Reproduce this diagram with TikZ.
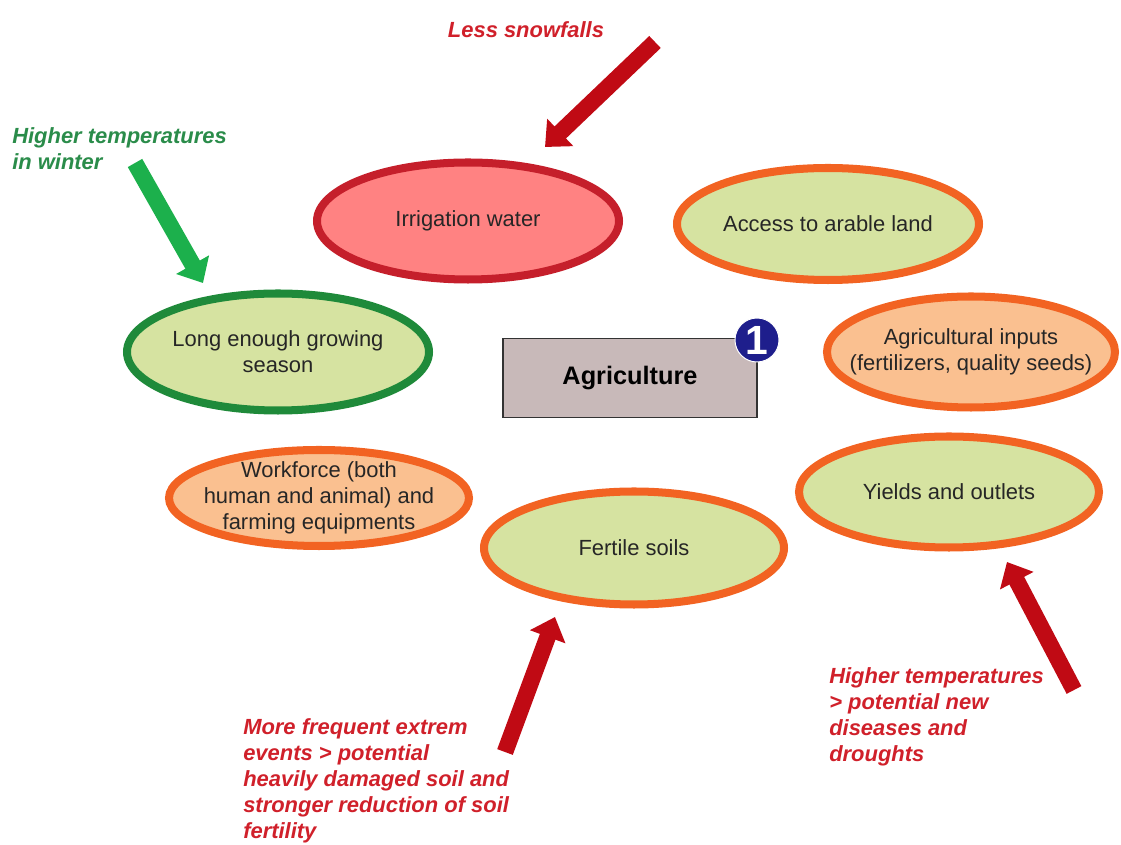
\documentclass[tikz,border=0pt]{standalone}
\usepackage{fontspec}
\setmainfont{Liberation Sans}
\usetikzlibrary{shapes.geometric, arrows.meta, calc}
\definecolor{limefill}{HTML}{D6E3A1}
\definecolor{peachfill}{HTML}{FAC090}
\definecolor{salmonfill}{HTML}{FF8282}
\definecolor{orangeline}{HTML}{F26322}
\definecolor{greenline}{HTML}{1F8A3A}
\definecolor{redline}{HTML}{C51F2B}
\definecolor{boxfill}{HTML}{C8B9B9}
\definecolor{badgeblue}{HTML}{1E1E8C}
\definecolor{redarrow}{HTML}{C00A14}
\definecolor{greenarrow}{HTML}{1CB04C}
\definecolor{redtxt}{HTML}{D0202A}
\definecolor{greentxt}{HTML}{2A8C4A}

\begin{document}
\begin{tikzpicture}[x=0.025cm, y=-0.025cm, lbl/.style={align=center, text=black!85, font=\fontsize{15.6}{18.5}\selectfont}]
\tikzstyle{oval}=[ellipse, line width=5.7pt, inner sep=0pt]
\tikzstyle{limeov}=[oval, draw=orangeline, fill=limefill]
\tikzstyle{peachov}=[oval, draw=orangeline, fill=peachfill]
\tikzstyle{greenov}=[oval, draw=greenline, fill=limefill]
\tikzstyle{redov}=[oval, draw=redline, fill=salmonfill]
\tikzstyle{note}=[align=left, inner sep=0pt, font=\bfseries\itshape\fontsize{15.6}{18.6}\selectfont]
\tikzstyle{fat}=[line width=11.8pt, -{Triangle[length=15pt, width=26pt]}]
\useasboundingbox (0,0) rectangle (1121,845);
% the seven conditions
\foreach \nm/\cx/\cy/\ow/\oh/\st/\txt in {
  irr/468/221/302/117/redov/{Irrigation water},
  land/828/224/302/112/limeov/{Access to arable land},
  grow/278/352/302/117/greenov/{Long enough growing\\season},
  inputs/971/352/288/111/peachov/{Agricultural inputs\\(fertilizers, quality seeds)},
  work/319/498/300/96/peachov/{Workforce (both\\human and animal) and\\farming equipments},
  yields/949/492/300/111/limeov/{Yields and outlets},
  soil/634/548/300/113/limeov/{Fertile soils}}{
  \node[\st, minimum width=\ow*0.025cm, minimum height=\oh*0.025cm,
    label={[lbl]center:\txt}] (\nm) at (\cx,\cy) {};}
\node[draw=black!80, fill=boxfill, line width=1.4pt, minimum width=6.35cm, minimum height=1.975cm,
  font=\bfseries\fontsize{18}{21}\selectfont] (agri) at (630,378) {Agriculture};
\node[circle, fill=badgeblue, draw=white, line width=0.7pt, minimum size=1.1cm, inner sep=0pt,
  text=white, font=\bfseries\fontsize{29}{30}\selectfont] (one) at (757,340) {1};
% climate notes
\node[note, text=redtxt] (snow) at (526,30) {Less snowfalls};
\node[note, text=greentxt, anchor=west] (winter) at (12,149) {Higher temperatures\\in winter};
\node[note, text=redtxt, anchor=west] (extrem) at (243,781) {More frequent extrem\\events > potential\\heavily damaged soil and\\stronger reduction of soil\\fertility};
\node[note, text=redtxt, anchor=west] (drought) at (829,717) {Higher temperatures\\> potential new\\diseases and\\droughts};
% arrows
\coordinate (snowtail) at (655,42);
\coordinate (wintertail) at (135,163);
\coordinate (soiltail) at (505,752);
\coordinate (yieldtail) at (1074,690);
\coordinate (irrtip) at ($(irr)+(77,-74)$);
\coordinate (growtip) at ($(grow)+(-75,-69)$);
\coordinate (soiltip) at ($(soil)+(-79,69)$);
\coordinate (yieldtip) at ($(yields)+(58,70)$);
\foreach \a/\b/\c in {snowtail/irrtip/redarrow, wintertail/growtip/greenarrow, soiltail/soiltip/redarrow, yieldtail/yieldtip/redarrow}{\draw[fat, \c] (\a) -- (\b);}
\end{tikzpicture}
\end{document}
